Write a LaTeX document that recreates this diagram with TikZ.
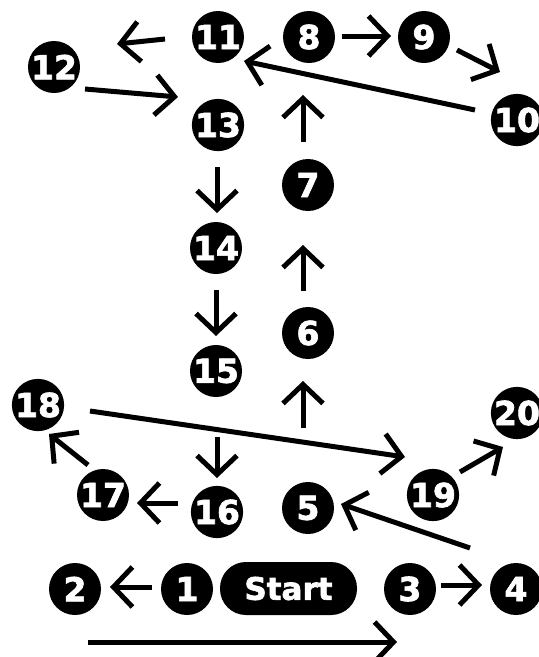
\documentclass[tikz,border=0pt]{standalone}
\usepackage{fontspec}
\newfontfamily\numfont{DejaVu Sans Bold}[FakeBold=2]
\usetikzlibrary{arrows.meta}
\tikzset{
  num/.style={circle,fill=black,minimum size=52pt,inner sep=0pt,text=white,
    font=\numfont\fontsize{33}{33}\selectfont},
  startbox/.style={rounded corners=26pt,fill=black,minimum width=137pt,minimum height=53pt,
    inner sep=0pt,text=white,font=\numfont\fontsize{31}{31}\selectfont},
  arr/.style={line width=5pt,-{Straight Barb[length=19pt,width=40pt]}}
}
\begin{document}
\begin{tikzpicture}[x=1pt,y=-1pt]
\useasboundingbox (0,0) rectangle (539,657);
% nodes
\node[num] (n11) at (218,37) {11};
\node[num] (n8) at (309,37) {8};
\node[num] (n9) at (424,37) {9};
\node[num] (n10) at (517,120) {10};
\node[num] (n12) at (54,67) {12};
\node[num] (n13) at (218,125) {13};
\node[num] (n7) at (308,185) {7};
\node[num] (n14) at (216,248) {14};
\node[num] (n6) at (308,333) {6};
\node[num] (n15) at (216,371) {15};
\node[num] (n18) at (38,405) {18};
\node[num] (n20) at (517,413) {20};
\node[num] (n17) at (103,495) {17};
\node[num] (n16) at (217,512) {16};
\node[num] (n5) at (308,508) {5};
\node[num] (n19) at (433,495) {19};
\node[num] (n2) at (75,589) {2};
\node[num] (n1) at (187,589) {1};
\node[startbox] (start) at (288.5,588.5) {Start};
\node[num] (n3) at (410,589) {3};
\node[num] (n4) at (516,589) {4};
% arrow end points
\coordinate (a11s) at (165,39); \coordinate (a11e) at (117,44);
\coordinate (a12s) at (85,89); \coordinate (a12e) at (178,97);
\coordinate (a10s) at (475,110); \coordinate (a10e) at (244,61);
\coordinate (a8s) at (342,36); \coordinate (a8e) at (391,36);
\coordinate (a9s) at (457,50); \coordinate (a9e) at (500,72);
\coordinate (a7s) at (303,142); \coordinate (a7e) at (303,95);
\coordinate (a13s) at (217,167); \coordinate (a13e) at (217,213);
\coordinate (a14s) at (216,290); \coordinate (a14e) at (216,336);
\coordinate (a6s) at (303,291); \coordinate (a6e) at (303,245);
\coordinate (a5s) at (303,428); \coordinate (a5e) at (303,381);
\coordinate (a15s) at (217,437); \coordinate (a15e) at (217,478);
\coordinate (a16s) at (178,503); \coordinate (a16e) at (137,503);
\coordinate (a17s) at (88,465); \coordinate (a17e) at (49,434);
\coordinate (a18s) at (90,411); \coordinate (a18e) at (405,457);
\coordinate (a19s) at (460,472); \coordinate (a19e) at (503,447);
\coordinate (a4s) at (470,548); \coordinate (a4e) at (341,504);
\coordinate (a1s) at (152,587); \coordinate (a1e) at (110,587);
\coordinate (a3s) at (441,585); \coordinate (a3e) at (482,585);
\coordinate (abs) at (88,642); \coordinate (abe) at (397,642);
% arrows
\foreach \p in {a11,a12,a10,a8,a9,a7,a13,a14,a6,a5,a15,a16,a17,a18,a19,a4,a1,a3,ab}
  \draw[arr] (\p s) -- (\p e);
\end{tikzpicture}
\end{document}
